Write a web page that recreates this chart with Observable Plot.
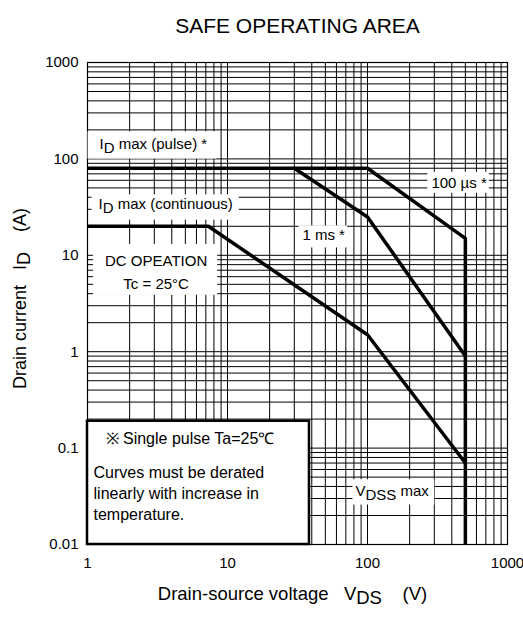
<!DOCTYPE html>
<html>
<head>
<meta charset="utf-8">
<script src="https://cdn.jsdelivr.net/npm/d3@7"></script>
<script src="https://cdn.jsdelivr.net/npm/@observablehq/plot@0.6"></script>
<style>
  html, body { margin: 0; padding: 0; background: #fff; }
</style>
</head>
<body>
<div id="chart"></div>
<script>
// ---------- data ----------
const pulse100usV = [1, 100, 500, 500];
const pulse100usA = [80, 80, 15, 0.01];
const pulse1msV = [30, 100, 500];
const pulse1msA = [80, 25, 0.9];
const dcV = [1, 7.3, 100, 500];
const dcA = [20, 20, 1.5, 0.07];

const xTicks = [1, 10, 100, 1000];
const yTicks = [0.01, 0.1, 1, 10, 100, 1000];
const mantissas = [1, 2, 3, 4, 5, 6, 7, 8, 9];
const xDecades = [1, 10, 100];
const yDecades = [0.01, 0.1, 1, 10, 100];

const titleText = "SAFE OPERATING AREA";
const xLabelText = "Drain-source voltage\u00a0\u00a0\u00a0V_{DS}\u00a0\u00a0\u00a0\u00a0(V)";
const yLabelText = "Drain current\u00a0\u00a0\u00a0I_{D}\u00a0\u00a0\u00a0\u00a0(A)";

// annotation labels (anchors in data units)
const annotations = [
  {text: "I_{D} max (pulse) *", x: 1.22, y: 141, anchor: "start", lh: 1, pad: [12, 9, 4, 3]},
  {text: "I_{D} max (continuous)", x: 1.2, y: 33.6, anchor: "start", lh: 1, pad: [7, 6, 1, 4]},
  {text: "DC OPEATION\nTc = 25°C", x: 3.09, y: 7.04, anchor: "middle", lh: 1.53, pad: [12, 10, 8, 3]},
  {text: "1 ms *", x: 34.3, y: 16.0, anchor: "start", lh: 1, pad: [4, 2, 1, 4]},
  {text: "100 µs *", x: 286, y: 56.2, anchor: "start", lh: 1, pad: [4, 2, 2, 2]},
  {text: "V_{DSS} max", x: 82, y: 0.0355, anchor: "start", lh: 1, pad: [3, 5, 3, 2]}
];
const noteBox = [{x1: 1, x2: 38.5, y1: 0.01, y2: 0.19}];
const noteHead = [{text: "※ Single pulse Ta=25℃", x: 1.345, y: 0.126}];
const noteBody = [{text: "Curves must be derated\nlinearly with increase in\ntemperature.", x: 1.104, y: 0.0346}];

// ---------- derived tables ----------
const xGrid = xDecades.flatMap(d => mantissas.map(m => m * d)).concat([1000]);
const yGrid = yDecades.flatMap(d => mantissas.map(m => m * d)).concat([1000]);
const series = [
  {name: "100us", v: pulse100usV, a: pulse100usA},
  {name: "1ms", v: pulse1msV, a: pulse1msA},
  {name: "DC", v: dcV, a: dcA}
];
const curves = series.flatMap(s => s.v.map((v, i) => ({series: s.name, V: v, A: s.a[i]})));

const fontFamily = "'Liberation Sans', Arial, Helvetica, sans-serif";

const plot = Plot.plot({
  width: 523,
  height: 623,
  marginLeft: 87,
  marginRight: 16,
  marginTop: 62,
  marginBottom: 79,
  style: {fontFamily, fontSize: "15px", color: "#000", background: "#fff"},
  x: {type: "log", domain: [1, 1000]},
  y: {type: "log", domain: [0.01, 1000]},
  marks: [
    Plot.gridX(xGrid, {stroke: "#000", strokeOpacity: 1, strokeWidth: 1}),
    Plot.gridY(yGrid, {stroke: "#000", strokeOpacity: 1, strokeWidth: 1}),
    Plot.frame({stroke: "#000", strokeWidth: 1.2}),
    Plot.rect(noteBox, {x1: "x1", x2: "x2", y1: "y1", y2: "y2", fill: "#fff", stroke: "#000", strokeWidth: 2.5}),
    Plot.line(curves, {x: "V", y: "A", z: "series", stroke: "#000", strokeWidth: 3.5, strokeLinejoin: "miter", strokeLinecap: "butt"}),
    ...annotations.map(a => Plot.text([a], {x: "x", y: "y", text: "text", textAnchor: a.anchor, lineHeight: a.lh, fontSize: 15, fill: "#000"})),
    Plot.text(noteHead, {x: "x", y: "y", text: "text", textAnchor: "start", fontSize: 16, fill: "#000"}),
    Plot.text(noteBody, {x: "x", y: "y", text: "text", textAnchor: "start", lineHeight: 1.3, fontSize: 16, fill: "#000"}),
    Plot.axisX({ticks: xTicks, tickSize: 0, tickPadding: 13, fontSize: 15, label: null, tickFormat: d => String(d)}),
    Plot.axisY({ticks: yTicks, tickSize: 0, tickPadding: 9, fontSize: 15, label: null, tickFormat: d => String(d)}),
    Plot.text([titleText], {text: d => d, frameAnchor: "top", dy: -44, fontSize: 21, fill: "#000"}),
    Plot.text([xLabelText], {text: d => d, frameAnchor: "bottom", dy: 55, dx: -5, fontSize: 18.5, fill: "#000"}),
    Plot.text([yLabelText], {text: d => d, frameAnchor: "left", textAnchor: "middle", rotate: -90, dx: -67, dy: -5, fontSize: 18, fill: "#000"})
  ]
});

document.getElementById("chart").append(plot);
const svg = plot.tagName.toLowerCase() === "svg" ? plot : plot.querySelector("svg");
const NS = "http://www.w3.org/2000/svg";

// find annotation text elements (before subscript rewrite)
const padByText = new Map(annotations.map(a => [a.text, a.pad]));
const boxed = [];
svg.querySelectorAll("text").forEach(t => {
  const key = t.querySelector("tspan") ? [...t.querySelectorAll("tspan")].map(s => s.textContent).join("\n") : t.textContent;
  if (padByText.has(key)) boxed.push([t, padByText.get(key)]);
});

// subscripts: "_{...}"
svg.querySelectorAll("text, tspan").forEach(el => {
  if ([...el.childNodes].some(n => n.nodeType !== 3)) return;
  const s = el.textContent;
  if (!s.includes("_{")) return;
  const parts = s.split(/(_\{[^}]*\})/).filter(p => p);
  el.textContent = "";
  let shifted = false;
  parts.forEach(p => {
    const ts = document.createElementNS(NS, "tspan");
    if (p.startsWith("_{")) {
      ts.textContent = p.slice(2, -1);
      ts.setAttribute("dy", "0.22em");
      shifted = true;
    } else {
      ts.textContent = p;
      if (shifted) { ts.setAttribute("dy", "-0.22em"); shifted = false; }
    }
    el.appendChild(ts);
  });
});

// white boxes behind annotation labels
boxed.forEach(([t, pad]) => {
  const b = t.getBBox();
  const [l, r, tp, bt] = pad;
  const rect = document.createElementNS(NS, "rect");
  rect.setAttribute("x", b.x - l);
  rect.setAttribute("y", b.y - tp);
  rect.setAttribute("width", b.width + l + r);
  rect.setAttribute("height", b.height + tp + bt);
  rect.setAttribute("fill", "#fff");
  rect.setAttribute("stroke", "none");
  const tr = t.getAttribute("transform");
  if (tr) rect.setAttribute("transform", tr);
  t.parentNode.insertBefore(rect, t);
});
</script>
</body>
</html>
